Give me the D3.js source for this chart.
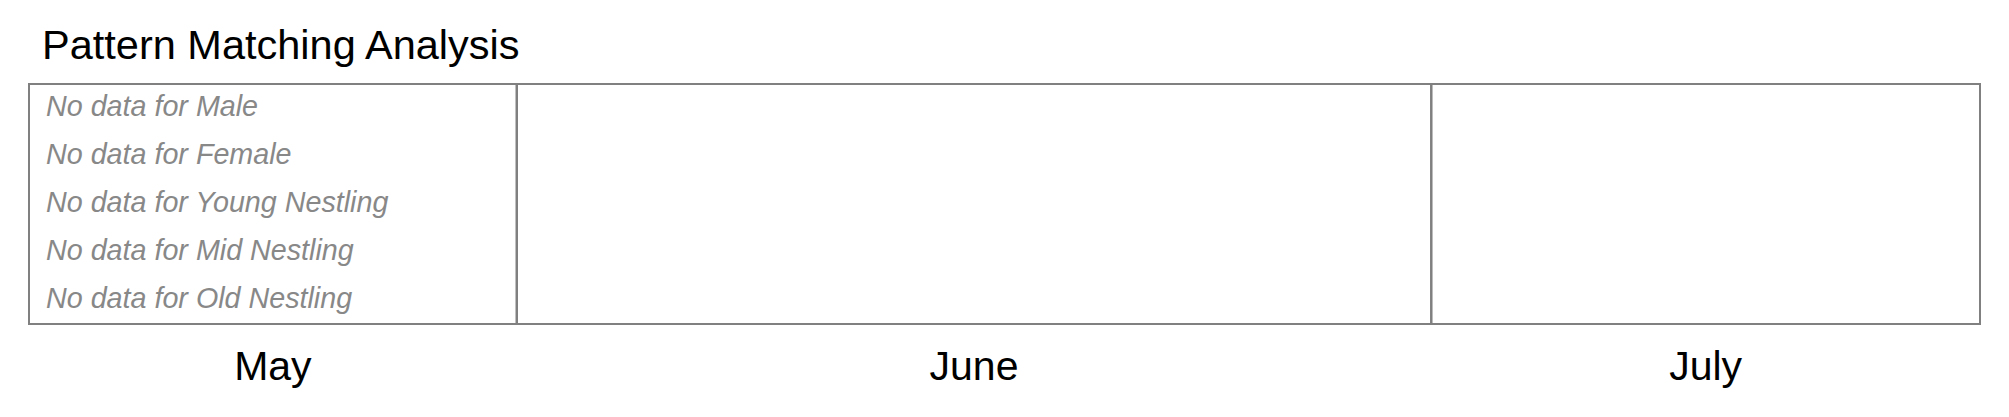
<!DOCTYPE html>
<html>
<head>
<meta charset="utf-8">
<script src="https://cdn.jsdelivr.net/npm/d3@7"></script>
<style>
  html, body { margin: 0; padding: 0; background: #fff; }
  svg { display: block; }
</style>
</head>
<body>
<svg id="chart" width="2009" height="417"></svg>
<script>
// ---- data ----
const title = "Pattern Matching Analysis";
const categories = ["Male", "Female", "Young Nestling", "Mid Nestling", "Old Nestling"];
const monthLabels = ["May", "June", "July"];
const monthStarts = ["2024-05-01", "2024-06-01", "2024-07-01"];
const dateDomain = ["2024-05-16", "2024-07-19"];
const detections = []; // no pattern matches for any category

// ---- layout ----
const W = 2009, H = 417;
const margin = { left: 29, right: 29, top: 84, bottom: 93 };
const svg = d3.select("#chart");
const parse = d3.timeParse("%Y-%m-%d");

const x = d3.scaleTime()
  .domain(dateDomain.map(parse))
  .range([margin.left, W - margin.right]);
const y = d3.scaleBand()
  .domain(categories)
  .range([margin.top, H - margin.bottom]);

const borderColor = "#808080";
const font = "'Liberation Sans', Arial, Helvetica, sans-serif";

// title
svg.append("text")
  .attr("x", 42).attr("y", 59)
  .attr("font-family", font).attr("font-size", 41.5)
  .attr("fill", "#000")
  .text(title);

// frame
svg.append("rect")
  .attr("x", x.range()[0]).attr("y", y.range()[0])
  .attr("width", x.range()[1] - x.range()[0])
  .attr("height", y.range()[1] - y.range()[0])
  .attr("fill", "none").attr("stroke", borderColor).attr("stroke-width", 2);

// month boundaries and labels
const bounds = monthStarts.map(parse);
const dom = x.domain();
const segs = monthLabels.map((m, i) => {
  const s = bounds[i] < dom[0] ? dom[0] : bounds[i];
  const e = i + 1 < bounds.length ? bounds[i + 1] : dom[1];
  return { label: m, s, e };
});

svg.selectAll("line.month")
  .data(bounds.filter(d => d > dom[0] && d < dom[1]))
  .join("line").attr("class", "month")
  .attr("x1", d => x(d)).attr("x2", d => x(d))
  .attr("y1", y.range()[0]).attr("y2", y.range()[1])
  .attr("stroke", borderColor).attr("stroke-width", 2.5);

svg.selectAll("text.month")
  .data(segs)
  .join("text").attr("class", "month")
  .attr("x", d => (x(d.s) + x(d.e)) / 2)
  .attr("y", 380)
  .attr("text-anchor", "middle")
  .attr("font-family", font).attr("font-size", 41)
  .attr("fill", "#000")
  .text(d => d.label);

// per-category "no data" notes
svg.selectAll("text.nodata")
  .data(categories.filter(c => !detections.some(d => d.category === c)))
  .join("text").attr("class", "nodata")
  .attr("x", x.range()[0] + 17)
  .attr("y", c => y(c) + y.bandwidth() / 2 + 7.5)
  .attr("font-family", font).attr("font-size", 28.7)
  .attr("font-style", "italic")
  .attr("fill", "#888888")
  .text(c => "No data for " + c);
</script>
</body>
</html>
